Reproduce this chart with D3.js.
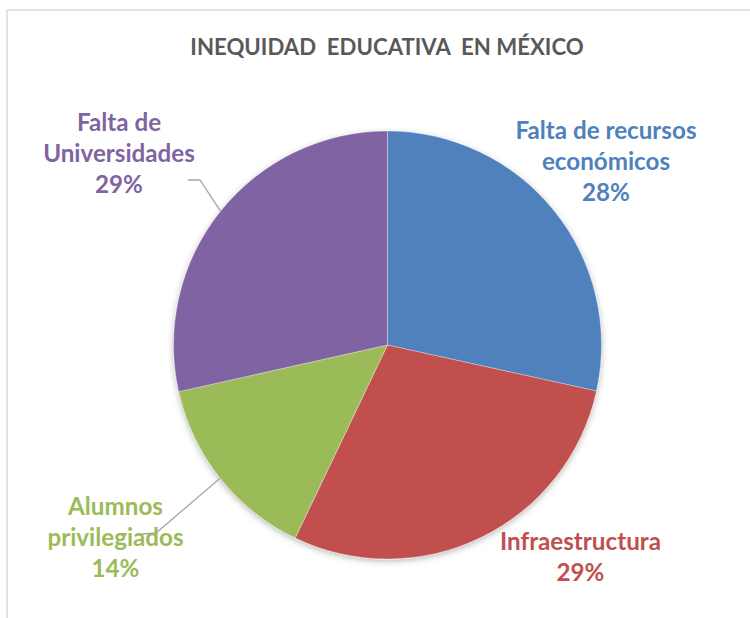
<!DOCTYPE html>
<html>
<head>
<meta charset="utf-8">
<script src="https://cdn.jsdelivr.net/npm/d3@7"></script>
<style>
  html, body { margin: 0; padding: 0; background: #fff; }
  svg { display: block; }
  text { font-family: Lato, "Open Sans", sans-serif; font-weight: bold; }
</style>
</head>
<body>
<svg id="chart" width="750" height="618"></svg>
<script>
// ---- data ----
const categories = ["Falta de recursos económicos", "Infraestructura", "Alumnos privilegiados", "Falta de Universidades"];
const labelLines = [["Falta de recursos", "económicos"], ["Infraestructura"], ["Alumnos", "privilegiados"], ["Falta de", "Universidades"]];
const values = [28.45, 28.65, 14.4, 28.5];
const colors = ["#4F81BD", "#C0504D", "#9BBB59", "#8064A2"];
const title = "INEQUIDAD  EDUCATIVA  EN MÉXICO";

// ---- layout ----
const W = 750, H = 618;
const cx = 387.5, cy = 345, R = 214;
const fontSize = 24.2, lineH = 31;
// label block: x center, y of first baseline
const labelPos = [
  { x: 606, y: 139 },
  { x: 580.5, y: 550 },
  { x: 115.5, y: 515 },
  { x: 119, y: 130.5 }
];
// leader line elbows (only for labels that need them)
const leaders = [
  null,
  null,
  [[156, 533], [142, 534]],
  [[200, 180], [188, 180]]
];

const svg = d3.select("#chart");

const defs = svg.append("defs");
const f = defs.append("filter").attr("id", "shadow")
  .attr("x", "-20%").attr("y", "-20%").attr("width", "140%").attr("height", "140%");
f.append("feDropShadow").attr("dx", 0).attr("dy", 2).attr("stdDeviation", 3)
  .attr("flood-color", "#000").attr("flood-opacity", 0.28);

// chart frame
svg.append("rect")
  .attr("x", 7).attr("y", 10).attr("width", W + 20).attr("height", H + 20)
  .attr("fill", "#fff").attr("stroke", "#D9D9D9").attr("stroke-width", 1.5);

// title
svg.append("text")
  .attr("x", 387).attr("y", 54.5)
  .attr("text-anchor", "middle")
  .attr("fill", "#595959")
  .attr("font-size", 22.2)
  .attr("xml:space", "preserve")
  .style("white-space", "pre")
  .text(title);

const pie = d3.pie().sort(null).value(d => d)(values);
const arc = d3.arc().innerRadius(0).outerRadius(R);

const g = svg.append("g").attr("transform", `translate(${cx},${cy})`);
g.append("g").attr("filter", "url(#shadow)")
  .selectAll("path").data(pie).join("path")
  .attr("d", arc)
  .attr("fill", (d, i) => colors[i])
  .attr("stroke", "rgba(255,255,255,0.55)")
  .attr("stroke-width", 0.6);

// leader lines
pie.forEach((d, i) => {
  if (!leaders[i]) return;
  const a = (d.startAngle + d.endAngle) / 2;
  const p0 = [cx + R * Math.sin(a), cy - R * Math.cos(a)];
  const pts = [p0].concat(leaders[i]);
  svg.append("path")
    .attr("d", d3.line()(pts))
    .attr("fill", "none")
    .attr("stroke", "#A6A6A6")
    .attr("stroke-width", 1.3);
});

// labels
pie.forEach((d, i) => {
  const lines = labelLines[i].concat([Math.round(values[i]) + "%"]);
  const t = svg.append("text")
    .attr("text-anchor", "middle")
    .attr("fill", colors[i])
    .attr("font-size", fontSize);
  lines.forEach((ln, k) => {
    t.append("tspan")
      .attr("x", labelPos[i].x)
      .attr("y", labelPos[i].y + k * lineH)
      .text(ln);
  });
});
</script>
</body>
</html>
